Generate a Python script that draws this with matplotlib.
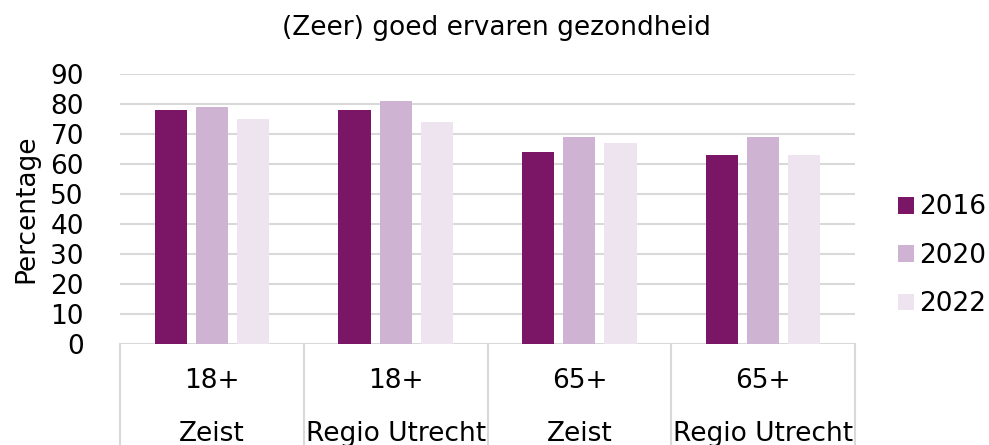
import numpy as np
import matplotlib.pyplot as plt
from matplotlib import transforms

plt.rcParams['font.family'] = ['DejaVu Sans']

ages = ['18+', '18+', '65+', '65+']
regions = ['Zeist', 'Regio Utrecht', 'Zeist', 'Regio Utrecht']
years = ['2016', '2020', '2022']
values = {
    '2016': [78, 78, 64, 63],
    '2020': [79, 81, 69, 69],
    '2022': [75, 74, 67, 63],
}
colours = ['#7B1667', '#CFB3D2', '#EDE4EF']
grid_col = '#D9D9D9'
fs = 19

fig = plt.figure(figsize=(9.89, 4.45), dpi=100)
ax = fig.add_axes([120 / 989, 1 - 344 / 445, 735 / 989, 270 / 445])

x = np.arange(len(ages))
step = 0.224
width = 0.175
for i, yr in enumerate(years):
    ax.bar(x + (i - 1) * step, values[yr], width=width, color=colours[i],
           label=yr, zorder=3)

ax.set_xlim(-0.5, len(ages) - 0.5)
ax.set_ylim(0, 90)
ax.set_yticks(range(0, 91, 10))
ax.tick_params(axis='y', length=0, labelsize=fs, pad=26)
ax.set_xticks([])
for s in ax.spines.values():
    s.set_visible(False)
ax.yaxis.grid(True, color=grid_col, linewidth=1.5, zorder=0)
ax.set_axisbelow(True)
ax.set_ylabel('Percentage', fontsize=fs, labelpad=8)

# multi-level category labels
trans = transforms.blended_transform_factory(ax.transData, ax.transAxes)
for xi, a, r in zip(x, ages, regions):
    ax.text(xi, -0.137, a, transform=trans, ha='center', va='center', fontsize=fs)
    ax.text(xi, -0.333, r, transform=trans, ha='center', va='center', fontsize=fs)
for b in np.arange(-0.5, len(ages), 1.0):
    ax.plot([b, b], [0, -0.38], transform=trans, color=grid_col, lw=1.5,
            clip_on=False)

fig.text(0.502, 0.937, '(Zeer) goed ervaren gezondheid', ha='center',
         va='center', fontsize=fs)

ax.legend(loc='center left', bbox_to_anchor=(0.908, 0.425),
          bbox_transform=fig.transFigure, frameon=False, fontsize=fs,
          handlelength=0.6, handleheight=0.6, handletextpad=0.2,
          labelspacing=0.85, borderpad=0, borderaxespad=0)

fig.savefig('out.png', dpi=100)
